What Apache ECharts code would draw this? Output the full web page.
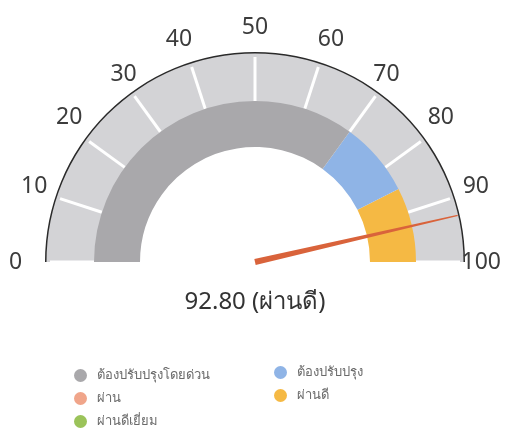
<!doctype html>
<html lang="th">
<head>
    <meta charset="UTF-8">
    <title>Gauge</title>
    <style>
        html, body { margin: 0; padding: 0; background: #fff; }
    </style>
</head>
<body>
    <div id="main" style="width:517px;height:434px;"></div>
</body>
<script src="https://cdn.jsdelivr.net/npm/echarts@6/dist/echarts.min.js"></script>
<script type="text/javascript">
    // ข้อมูล
    const gaugeValue = 92.8
    const statusText = 'ผ่านดี'
    const gaugeMin = 0
    const gaugeMax = 100
    const bandStops = [0.7, 0.85, 1]
    const bandColors = ['#a9a8ab', '#8fb4e6', '#f5b944']
    const legendNames = ['ต้องปรับปรุงโดยด่วน', 'ต้องปรับปรุง', 'ผ่าน', 'ผ่านดี', 'ผ่านดีเยี่ยม']
    const legendColors = ['#a9a8ab', '#8fb4e6', '#f0a58a', '#f5b944', '#9bc35a']

    const myChart = echarts.init(document.getElementById('main'))
    const font = '"Noto Sans", "DejaVu Sans", sans-serif'
    const center = [255, 262]

    const base = {
        type: 'gauge',
        center: center,
        startAngle: 180,
        endAngle: 0,
        min: gaugeMin,
        max: gaugeMax,
        splitNumber: 10,
        axisLine: { show: false },
        pointer: { show: false },
        anchor: { show: false },
        progress: { show: false },
        axisTick: { show: false },
        splitLine: { show: false },
        axisLabel: { show: false },
        title: { show: false },
        detail: { show: false },
        silent: true
    }

    const legendBase = {
        orient: 'vertical', itemGap: 10, padding: 0,
        icon: 'circle', itemWidth: 13, itemHeight: 13,
        textStyle: { fontSize: 13, color: '#6a6a6a', fontFamily: font, padding: [0, 0, 0, 5] },
        selectedMode: false
    }

    const option = {
        animation: false,
        legend: [
            Object.assign({}, legendBase, {
                left: 74, top: 369, height: 70,
                data: [legendNames[0], legendNames[2], legendNames[4]]
            }),
            Object.assign({}, legendBase, {
                left: 274, top: 366, height: 60,
                data: [legendNames[1], legendNames[3]]
            })
        ],
        series: [
            // วงนอกสีเทาอ่อน + เส้นแบ่ง
            Object.assign({}, base, {
                radius: 209,
                axisLine: { show: true, lineStyle: { width: 49, color: [[1, '#d3d3d6']] } },
                splitLine: { show: true, distance: -45, length: 44, lineStyle: { color: '#ffffff', width: 3 } }
            }),
            // แถบสีด้านใน
            Object.assign({}, base, {
                radius: 161,
                axisLine: { show: true, lineStyle: { width: 46, color: bandStops.map((s, i) => [s, bandColors[i]]) } }
            }),
            // เส้นขอบนอก + ตัวเลข
            Object.assign({}, base, {
                radius: 210,
                axisLine: { show: true, lineStyle: { width: 1.5, color: [[1, '#2a2a2a']] } },
                axisLabel: {
                    show: true, distance: -56, color: '#3c3c3c', fontSize: 23,
                    fontFamily: font, align: 'center', verticalAlign: 'middle'
                }
            }),
            // เข็ม
            Object.assign({}, base, {
                radius: 208,
                pointer: {
                    show: true,
                    icon: 'path://M4,0 L6,0 L10,100 L0,100 Z',
                    length: 208,
                    width: 6,
                    itemStyle: { color: '#d9633b' }
                },
                detail: {
                    show: true,
                    offsetCenter: [0, 40],
                    fontSize: 24,
                    fontWeight: 'normal',
                    color: '#333333',
                    fontFamily: font,
                    formatter: v => v.toFixed(2) + ' (' + statusText + ')'
                },
                data: [{ value: gaugeValue }]
            }),
            // สำหรับคำอธิบาย
            {
                type: 'pie',
                radius: [0, 0],
                center: [-100, -100],
                silent: true,
                label: { show: false },
                labelLine: { show: false },
                data: legendNames.map((n, i) => ({ name: n, value: 1, itemStyle: { color: legendColors[i] } }))
            }
        ]
    }
    myChart.setOption(option)
</script>
</html>
